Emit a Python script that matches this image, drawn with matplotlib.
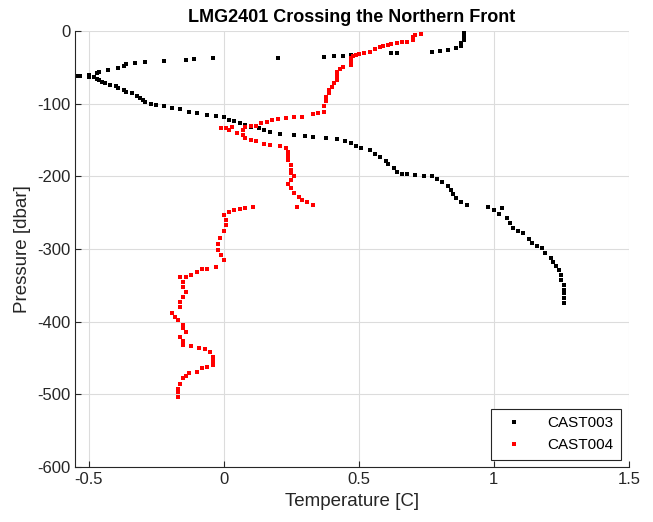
import matplotlib
matplotlib.use("Agg")
import matplotlib.pyplot as plt

plt.rcParams['font.family'] = ['Liberation Sans', 'DejaVu Sans']
plt.rcParams['axes.unicode_minus'] = False

# CAST003 (black) temperature [C] and pressure [dbar]
temp003 = [0.89, 0.89, 0.89, 0.88, 0.88, 0.86, 0.83, 0.80, 0.77, 0.64, 0.62, 0.47, 0.44, 0.41, 0.37,
           0.20, -0.04, -0.11, -0.14, -0.22, -0.29, -0.33, -0.36, -0.37, -0.39, -0.43, -0.46, -0.47,
           -0.50, -0.53, -0.54, -0.50, -0.48, -0.47, -0.46, -0.45, -0.44, -0.42, -0.40, -0.39, -0.37,
           -0.36, -0.34, -0.32, -0.31, -0.30, -0.29, -0.27, -0.25, -0.22, -0.19, -0.16, -0.13, -0.10,
           -0.06, -0.03, 0.00, 0.02, 0.04, 0.06, 0.08, 0.10, 0.13, 0.15, 0.17, 0.21, 0.26, 0.30, 0.33,
           0.38, 0.42, 0.45, 0.47, 0.49, 0.51, 0.54, 0.56, 0.58, 0.60, 0.61, 0.63, 0.64, 0.66, 0.68,
           0.71, 0.74, 0.77, 0.79, 0.81, 0.83, 0.84, 0.85, 0.86, 0.88, 0.90, 0.98, 1.00, 1.03, 1.02,
           1.05, 1.06, 1.07, 1.09, 1.11, 1.13, 1.14, 1.16, 1.18, 1.19, 1.21, 1.22, 1.23, 1.24, 1.25,
           1.25, 1.26, 1.26, 1.26, 1.26, 1.26]
pres003 = [-3, -7, -12, -17, -21, -23, -27, -28, -29, -30, -31, -33, -34, -34, -36,
           -37, -37, -39, -40, -41, -43, -44, -45, -48, -51, -54, -56, -58,
           -61, -62, -62, -63, -64, -66, -68, -70, -72, -74, -76, -78, -81,
           -84, -86, -89, -92, -95, -98, -100, -102, -104, -106, -108, -111, -113,
           -116, -117, -119, -122, -124, -127, -130, -132, -134, -137, -139, -142, -143, -145, -146,
           -148, -149, -152, -154, -158, -161, -164, -169, -174, -179, -183, -188, -194, -197, -197,
           -198, -199, -200, -204, -208, -214, -219, -224, -230, -235, -240, -242, -247, -244, -252,
           -257, -264, -271, -275, -278, -286, -292, -296, -299, -306, -312, -318, -324, -329, -336,
           -343, -350, -356, -361, -367, -374]

# CAST004 (red)
temp004 = [0.73, 0.71, 0.70, 0.70, 0.68, 0.66, 0.64, 0.62, 0.61, 0.59, 0.58, 0.56, 0.54, 0.52, 0.50,
           0.49, 0.48, 0.47, 0.47, 0.47, 0.44, 0.43, 0.42, 0.42, 0.42, 0.41, 0.40, 0.39, 0.39, 0.38,
           0.38, 0.37, 0.37, 0.35, 0.33, 0.29, 0.26, 0.23, 0.20, 0.18, 0.16, 0.14, 0.12, 0.10, 0.08,
           0.07, 0.03, 0.01, -0.01, 0.02, 0.05, 0.07, 0.08, 0.10, 0.12, 0.15, 0.17, 0.21, 0.23, 0.24,
           0.24, 0.24, 0.25, 0.25, 0.25, 0.26, 0.25, 0.24, 0.25, 0.26, 0.28, 0.29, 0.31, 0.33, 0.27,
           0.11, 0.08, 0.06, 0.04, 0.02, 0.00, 0.01, 0.01, 0.00, -0.015, -0.02, -0.02, -0.01, 0.00,
           -0.03, -0.06, -0.08, -0.10, -0.12, -0.14, -0.16, -0.15, -0.15, -0.14, -0.15, -0.16, -0.16,
           -0.19, -0.18, -0.17, -0.15, -0.15, -0.14, -0.16, -0.15, -0.15, -0.12, -0.09, -0.07, -0.05,
           -0.04, -0.04, -0.04, -0.06, -0.08, -0.10, -0.13, -0.14, -0.15, -0.16, -0.17, -0.17, -0.17]
pres004 = [-4, -6, -9, -12, -15, -16, -17, -18, -19, -21, -22, -25, -29, -30, -32,
           -33, -35, -37, -42, -47, -50, -53, -56, -62, -67, -72, -77, -81, -85, -91,
           -97, -104, -111, -113, -115, -118, -119, -120, -121, -122, -125, -127, -131, -131, -132,
           -136, -132, -133, -134, -136, -140, -143, -147, -150, -152, -155, -157, -158, -161, -166,
           -172, -178, -185, -191, -196, -200, -205, -210, -216, -223, -228, -233, -236, -239, -242,
           -242, -244, -245, -247, -249, -253, -260, -267, -275, -285, -293, -301, -308, -315,
           -325, -327, -328, -332, -336, -338, -339, -345, -352, -359, -366, -373, -380,
           -388, -393, -398, -405, -409, -414, -421, -427, -432, -434, -436, -438, -441,
           -448, -454, -460, -462, -464, -469, -471, -474, -478, -485, -492, -497, -503]

fig = plt.figure(figsize=(6.53, 5.22), dpi=100)
ax = fig.add_axes([0.115, 0.105, 0.848, 0.836])

ax.plot(temp003, pres003, 's', color='black', markersize=2.2, markeredgewidth=0, linestyle='none', label='CAST003')
ax.plot(temp004, pres004, 's', color='red', markersize=2.2, markeredgewidth=0, linestyle='none', label='CAST004')

ax.set_xlim(-0.55, 1.5)
ax.set_ylim(-600, 0)
ax.set_xticks([-0.5, 0, 0.5, 1, 1.5])
ax.set_xticklabels(['-0.5', '0', '0.5', '1', '1.5'])
ax.set_yticks([0, -100, -200, -300, -400, -500, -600])
ax.grid(True, color='#dcdcdc', linewidth=0.8)
ax.set_axisbelow(True)
ax.tick_params(direction='in', labelsize=12, colors='#262626', length=4)
for side in ['top', 'right']:
    ax.spines[side].set_visible(False)
for side in ['left', 'bottom']:
    ax.spines[side].set_color('#262626')

ax.set_xlabel('Temperature [C]', fontsize=13.5, color='#262626')
ax.set_ylabel('Pressure [dbar]', fontsize=13.5, color='#262626')
ax.set_title('LMG2401 Crossing the Northern Front', fontsize=13, fontweight='bold', color='black')

leg = ax.legend(loc='lower right', fontsize=11, fancybox=False, framealpha=1,
                edgecolor='#262626', markerscale=1.3, handletextpad=1.2, borderpad=0.5)
leg.get_frame().set_linewidth(0.8)

fig.savefig('out.png', dpi=100)
